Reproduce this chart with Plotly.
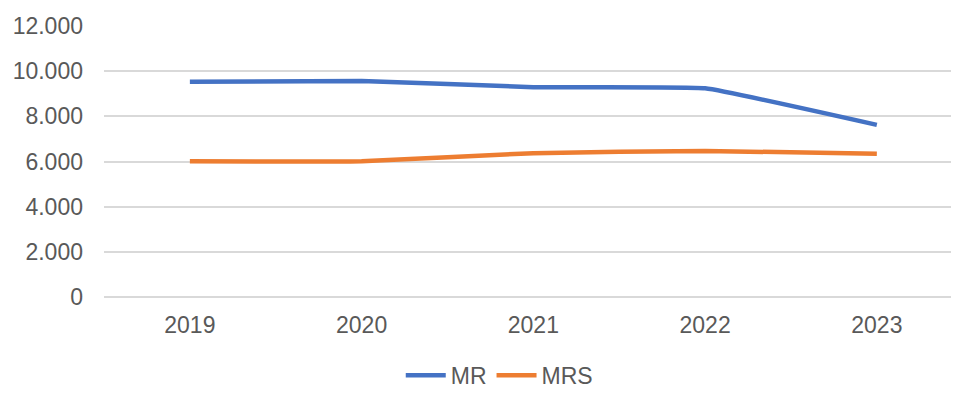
import plotly.graph_objects as go

years = ['2019', '2020', '2021', '2022', '2023']
mr = [9530, 9560, 9290, 9240, 7620]
mrs = [6010, 6010, 6370, 6470, 6340]
y_ticks = [0, 2000, 4000, 6000, 8000, 10000, 12000]

fig = go.Figure()

fig.add_trace(go.Scatter(
    x=years, y=mr, name='MR', mode='lines',
    line=dict(color='#4472C4', width=4.5, shape='spline', smoothing=0.3),
))
fig.add_trace(go.Scatter(
    x=years, y=mrs, name='MRS', mode='lines',
    line=dict(color='#ED7D31', width=4.5, shape='spline', smoothing=0.3),
))

# page body has an 8px margin, so offsets are compensated here
fig.update_layout(
    width=959, height=408,
    margin=dict(l=96, r=0, t=18, b=119),
    paper_bgcolor='white',
    plot_bgcolor='white',
    font=dict(family='Liberation Sans, Arial', size=23, color='#595959'),
    separators=',.',
    showlegend=True,
    legend=dict(
        orientation='h', x=0.458, xanchor='center', y=-0.21, yanchor='top',
        font=dict(size=23, color='#595959'),
        itemwidth=40,
    ),
    xaxis=dict(
        type='category', range=[-0.5, 4.525],
        showgrid=False, showline=False, ticks='',
        ticklabelstandoff=12,
    ),
    yaxis=dict(
        range=[0, 12000], tickvals=y_ticks,
        tickformat=',d', separatethousands=True,
        showgrid=True, gridcolor='#D9D9D9', gridwidth=1.5,
        zeroline=True, zerolinecolor='#D9D9D9', zerolinewidth=1.5,
        showline=False, ticks='', ticklabelstandoff=20,
    ),
)

fig.write_html("out.html")
